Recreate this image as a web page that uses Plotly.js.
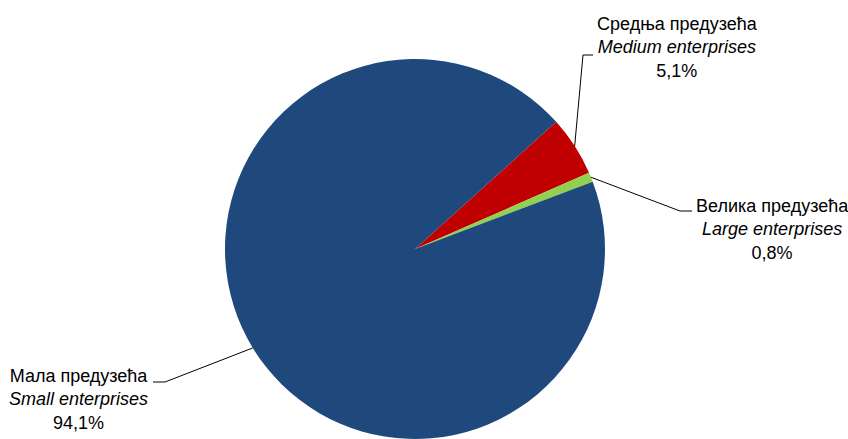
<!DOCTYPE html>
<html>
<head>
<meta charset="utf-8">
<script src="https://cdn.plot.ly/plotly-3.0.1.min.js"></script>
<style>html,body{margin:0;padding:0;background:#fff;}#chart{width:848px;height:439px;}</style>
</head>
<body>
<div id="chart"></div>
<script>
// Data
var labelsSr = ['Средња предузећа', 'Велика предузећа', 'Мала предузећа'];
var labelsEn = ['Medium enterprises', 'Large enterprises', 'Small enterprises'];
var shares = [5.1, 0.8, 94.1];
var colors = ['#C00000', '#92D050', '#1F497D'];

// Layout config (pixels)
var W = 848, H = 439;
var cx = 415, cy = 249, R = 190;
var rotation = 48;
var FONT = '"Liberation Sans", Arial, sans-serif';
// elbow points, line end and label anchor per slice
var leaders = [
  {elbow: [583, 55], end: [593, 55], label: [677, 47]},
  {elbow: [680, 211], end: [692, 211], label: [772, 229]},
  {elbow: [165, 382], end: [153, 382], label: [78, 399]}
];

function px(x){ return x / W; }
function py(y){ return 1 - y / H; }

var total = shares.reduce(function(a,b){return a+b;}, 0);
var shapes = [], annotations = [];
var cum = 0;
for (var i = 0; i < shares.length; i++) {
  var mid = rotation + (cum + shares[i] / 2) / total * 360;
  cum += shares[i];
  var a = mid * Math.PI / 180;
  var sx = cx + R * Math.sin(a), sy = cy - R * Math.cos(a);
  var L = leaders[i];
  shapes.push({
    type: 'path', xref: 'paper', yref: 'paper',
    path: 'M ' + px(sx) + ' ' + py(sy) + ' L ' + px(L.elbow[0]) + ' ' + py(L.elbow[1]) + ' L ' + px(L.end[0]) + ' ' + py(L.end[1]),
    line: {color: '#000000', width: 1}
  });
  annotations.push({
    xref: 'paper', yref: 'paper', x: px(L.label[0]), y: py(L.label[1]),
    xanchor: 'center', yanchor: 'middle', align: 'center', showarrow: false,
    text: labelsSr[i] + '<br><i>' + labelsEn[i] + '</i><br>' + shares[i].toFixed(1).replace('.', ',') + '%',
    font: {family: FONT, size: 18, color: '#000000'}
  });
}

var trace = {
  type: 'pie',
  values: shares,
  labels: labelsEn,
  sort: false,
  direction: 'clockwise',
  rotation: rotation,
  textinfo: 'none',
  hoverinfo: 'label+percent',
  marker: {colors: colors, line: {width: 0}},
  domain: {x: [px(cx - R), px(cx + R)], y: [py(cy + R), py(cy - R)]},
  automargin: false
};

var layout = {
  width: W, height: H,
  margin: {l: 0, r: 0, t: 0, b: 0, pad: 0},
  paper_bgcolor: '#ffffff',
  showlegend: false,
  shapes: shapes,
  annotations: annotations
};

Plotly.newPlot('chart', [trace], layout, {displayModeBar: false, staticPlot: true});
</script>
</body>
</html>
